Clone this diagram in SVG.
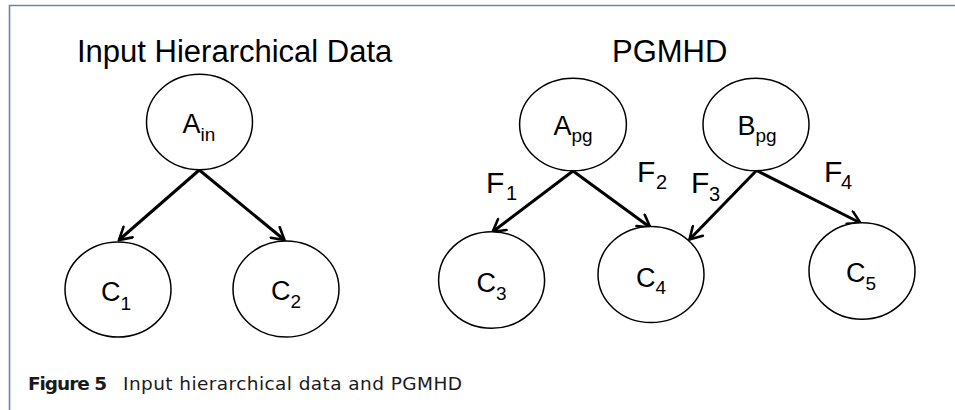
<svg xmlns="http://www.w3.org/2000/svg" width="955" height="410" viewBox="0 0 955 410">
<defs>
<marker id="arr" viewBox="0 0 16 16" refX="14" refY="8" markerWidth="16" markerHeight="16" markerUnits="userSpaceOnUse" orient="auto">
<path d="M2,1 L14,8 L2,15" fill="none" stroke="#000" stroke-width="2.6" stroke-linecap="round" stroke-linejoin="miter"/>
</marker>
<style>
.node ellipse{fill:#fff;stroke:#000;stroke-width:1.5}
.lbl{font-family:"Liberation Sans",Arial,sans-serif;font-size:27px;fill:#000;text-anchor:middle}
.sub{font-size:19px}
.title{font-family:"Liberation Sans",Arial,sans-serif;font-size:31px;fill:#000}
.f{font-family:"Liberation Sans",Arial,sans-serif;font-size:30px;fill:#000}
.fs{font-size:20px}
.edge{stroke:#000;stroke-width:3;fill:none;marker-end:url(#arr)}
.cap{font-family:"DejaVu Sans","Liberation Sans",sans-serif;font-size:18.5px;fill:#1a1a1a}
</style>
</defs>
<rect width="955" height="410" fill="#fff"/>
<path d="M9.5,410 L9.5,5.5 L955,5.5" fill="none" stroke="#6a86a8" stroke-width="1.6"/>

<text class="title" x="77" y="62">Input Hierarchical Data</text>
<text class="title" x="612" y="62">PGMHD</text>

<g id="connectors">
<line class="edge" x1="199.3" y1="170" x2="119" y2="240"/>
<line class="edge" x1="199.3" y1="170" x2="284.5" y2="240"/>
<line class="edge" x1="573" y1="171" x2="492.7" y2="231.7"/>
<line class="edge" x1="573" y1="171" x2="650.3" y2="227.5"/>
<line class="edge" x1="756.5" y1="170.5" x2="689.5" y2="239.5"/>
<line class="edge" x1="756.5" y1="170.5" x2="860.5" y2="223"/>
<text class="f" x="486" y="193">F<tspan class="fs" x="506" y="200">1</tspan></text>
<text class="f" x="637" y="182">F<tspan class="fs" x="656" y="189">2</tspan></text>
<text class="f" x="691" y="193">F<tspan class="fs" x="709" y="201">3</tspan></text>
<text class="f" x="824" y="182">F<tspan class="fs" x="841" y="189">4</tspan></text>
</g>

<g id="A_in" class="node">
<ellipse cx="199.5" cy="122" rx="53" ry="47.7"/>
<text class="lbl" x="199" y="133">A<tspan class="sub" dy="8">in</tspan></text>
</g>
<g id="C1" class="node">
<ellipse cx="118" cy="289.5" rx="53" ry="47.5"/>
<text class="lbl" x="116" y="301">C<tspan class="sub" dy="9">1</tspan></text>
</g>
<g id="C2" class="node">
<ellipse cx="286" cy="289" rx="53" ry="48"/>
<text class="lbl" x="286" y="300">C<tspan class="sub" dy="8">2</tspan></text>
</g>
<g id="A_pg" class="node">
<ellipse cx="573" cy="124.5" rx="53.4" ry="46.3"/>
<text class="lbl" x="573" y="135">A<tspan class="sub" dy="7">pg</tspan></text>
</g>
<g id="B_pg" class="node">
<ellipse cx="756" cy="124.5" rx="53" ry="46.3"/>
<text class="lbl" x="757" y="135">B<tspan class="sub" dy="7">pg</tspan></text>
</g>
<g id="C3" class="node">
<ellipse cx="491.6" cy="280" rx="53" ry="48.3"/>
<text class="lbl" x="491.5" y="292">C<tspan class="sub" dy="8">3</tspan></text>
</g>
<g id="C4" class="node">
<ellipse cx="651" cy="274.5" rx="53" ry="48"/>
<text class="lbl" x="651" y="287">C<tspan class="sub" dy="7">4</tspan></text>
</g>
<g id="C5" class="node">
<ellipse cx="862" cy="271" rx="53" ry="48.3"/>
<text class="lbl" x="861" y="282">C<tspan class="sub" dy="8">5</tspan></text>
</g>

<text class="cap" x="28" y="390"><tspan font-weight="bold" textLength="79" lengthAdjust="spacing">Figure 5</tspan><tspan x="123" textLength="339" lengthAdjust="spacing">Input hierarchical data and PGMHD</tspan></text>
</svg>
